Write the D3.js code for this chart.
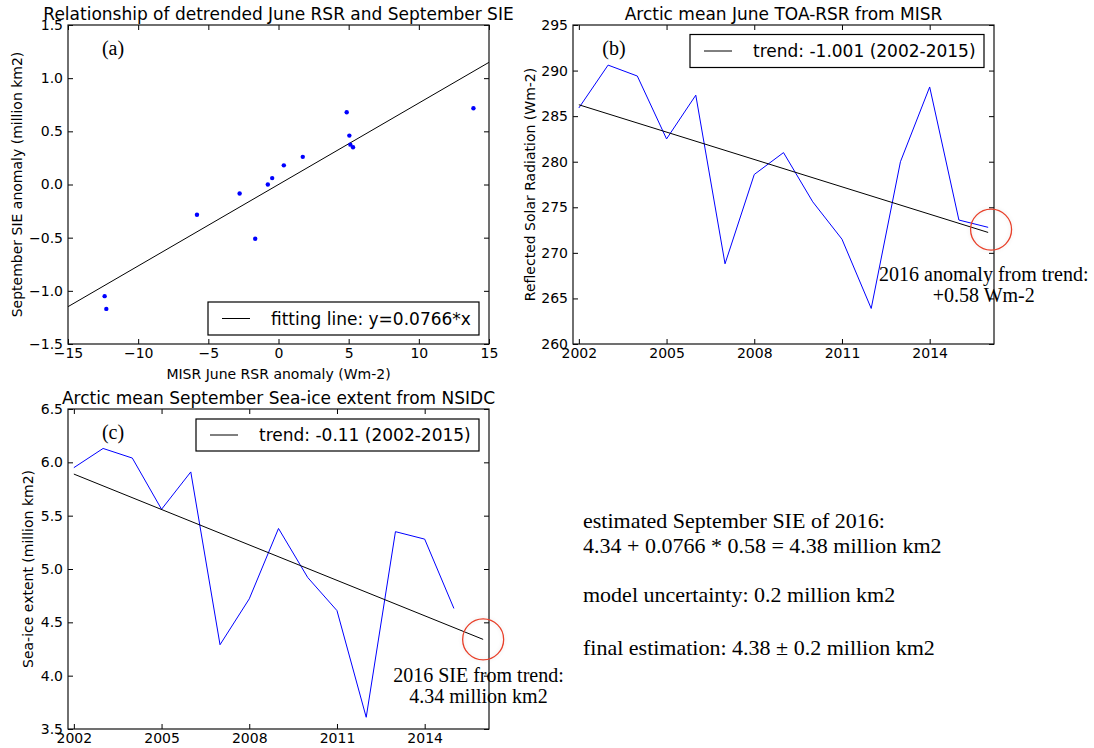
<!DOCTYPE html>
<html>
<head>
<meta charset="utf-8">
<script src="https://cdn.jsdelivr.net/npm/d3@7"></script>
<style>
    body { margin: 0; background: #fff; }
    text { fill: #000; }
</style>
</head>
<body>
<script>

// ---- data ----

// (a) detrended anomalies, one point per year 2002-2015
let rsrAnomaly = [-12.39, -12.27, -5.81, -2.77, -1.66, -0.76, -0.45, 0.38, 1.73, 4.86, 5.05, 5.12, 5.31, 13.89];
let sieAnomaly = [-1.05, -1.17, -0.285, -0.085, -0.51, 0.0, 0.06, 0.18, 0.26, 0.68, 0.46, 0.375, 0.35, 0.717];
let fitX = [-15, 15];
let fitY = [-1.149, 1.149];

// (b) June TOA reflected solar radiation
let years = [2002, 2003, 2004, 2005, 2006, 2007, 2008, 2009, 2010, 2011, 2012, 2013, 2014, 2015, 2016];
let rsrJune = [285.9, 290.6, 289.4, 282.5, 287.3, 268.8, 278.6, 281.0, 275.6, 271.5, 263.9, 280.0, 288.2, 273.6, 272.8];

// (c) September sea-ice extent (no 2016 value)
let sieSept = [5.95, 6.13, 6.04, 5.56, 5.91, 4.29, 4.72, 5.38, 4.92, 4.61, 3.61, 5.35, 5.28, 4.63];

// trend lines, end points 2002 and 2016
let trendYears = [2002, 2016];
let rsrTrend = [286.25, 272.24];
let sieTrend = [5.89, 4.34];

// tick values
let ticksAx = [-15, -10, -5, 0, 5, 10, 15];
let ticksAy = [-1.5, -1.0, -0.5, 0.0, 0.5, 1.0, 1.5];
let ticksYear = [2002, 2005, 2008, 2011, 2014];
let ticksBy = [260, 265, 270, 275, 280, 285, 290, 295];
let ticksCy = [3.5, 4.0, 4.5, 5.0, 5.5, 6.0, 6.5];

let noteLines = [
    "estimated September SIE of 2016:",
    "4.34 + 0.0766 * 0.58 = 4.38 million km2",
    "model uncertainty: 0.2 million km2",
    "final estimation: 4.38 \u00b1 0.2 million km2"
];

// ---- drawing ----

let sans = "DejaVu Sans";
let serif = "Liberation Serif, Times New Roman, serif";

let svg = d3.select("body").append("svg")
    .attr("width", 1094)
    .attr("height", 748);

let defs = svg.append("defs");
let glow = defs.append("filter").attr("id", "glow")
    .attr("x", "-30%").attr("y", "-30%").attr("width", "160%").attr("height", "160%");
glow.append("feGaussianBlur").attr("in", "SourceAlpha").attr("stdDeviation", 2).attr("result", "b");
glow.append("feComponentTransfer").attr("in", "b").attr("result", "c")
    .append("feFuncA").attr("type", "linear").attr("slope", 0.12);
let merge = glow.append("feMerge");
merge.append("feMergeNode").attr("in", "c");
merge.append("feMergeNode").attr("in", "SourceGraphic");

function makePanel(cfg) {
    let g = svg.append("g")
        .attr("transform", "translate(" + cfg.left + "," + cfg.top + ")");

    let x = d3.scaleLinear().domain(cfg.xDomain).range([0, cfg.width]);
    let y = d3.scaleLinear().domain(cfg.yDomain).range([cfg.height, 0]);

    let marks = g.append("g");

    // axes with inward ticks on all four sides
    let axes = g.append("g");
    axes.append("g")
        .attr("transform", "translate(0," + cfg.height + ")")
        .call(d3.axisBottom(x).tickValues(cfg.xTicks).tickFormat(cfg.xFormat)
            .tickSizeInner(-5).tickSizeOuter(0).tickPadding(4));
    axes.append("g")
        .call(d3.axisTop(x).tickValues(cfg.xTicks).tickFormat("")
            .tickSizeInner(-5).tickSizeOuter(0));
    axes.append("g")
        .call(d3.axisLeft(y).tickValues(cfg.yTicks).tickFormat(cfg.yFormat)
            .tickSizeInner(-5).tickSizeOuter(0).tickPadding(5));
    axes.append("g")
        .attr("transform", "translate(" + cfg.width + ",0)")
        .call(d3.axisRight(y).tickValues(cfg.yTicks).tickFormat("")
            .tickSizeInner(-5).tickSizeOuter(0));
    axes.selectAll(".domain").remove();
    axes.selectAll("text")
        .attr("font-family", sans)
        .attr("font-size", 14)
        .attr("fill", "#000");
    axes.selectAll(".tick line").attr("stroke", "#000");

    g.append("rect")
        .attr("x", 0).attr("y", 0)
        .attr("width", cfg.width).attr("height", cfg.height)
        .attr("fill", "none")
        .attr("stroke", "#111")
        .attr("stroke-width", 1.2);

    // title
    g.append("text")
        .attr("x", cfg.width / 2)
        .attr("y", -5.5)
        .attr("text-anchor", "middle")
        .attr("font-family", sans)
        .attr("font-size", 17)
        .text(cfg.title);

    // y label
    g.append("text")
        .attr("transform", "translate(" + cfg.yLabelX + "," + (cfg.height / 2) + ") rotate(-90)")
        .attr("text-anchor", "middle")
        .attr("font-family", sans)
        .attr("font-size", 14)
        .text(cfg.yLabel);

    // panel letter
    g.append("text")
        .attr("x", cfg.letterX)
        .attr("y", 30)
        .attr("text-anchor", "middle")
        .attr("font-family", serif)
        .attr("font-size", 20)
        .text(cfg.letter);

    return {g: g, marks: marks, x: x, y: y, cfg: cfg};
}

function legend(p, label) {
    let c = p.cfg.legend;
    let lg = p.g.append("g");
    lg.append("rect")
        .attr("x", c.x).attr("y", c.y)
        .attr("width", c.w).attr("height", c.h)
        .attr("fill", "#fff")
        .attr("stroke", "#000")
        .attr("stroke-width", 1.2);
    lg.append("line")
        .attr("x1", c.x + 14).attr("x2", c.x + 42)
        .attr("y1", c.y + c.h / 2).attr("y2", c.y + c.h / 2)
        .attr("stroke", "#000");
    lg.append("text")
        .attr("x", c.x + 63)
        .attr("y", c.y + c.h / 2 + 6)
        .attr("font-family", sans)
        .attr("font-size", 17)
        .text(label);
}

function annotate(p, cx, cy, lines) {
    p.g.append("circle")
        .attr("cx", p.x(cx[0]))
        .attr("cy", p.y(cx[1]))
        .attr("r", 20.5)
        .attr("fill", "none")
        .attr("stroke", "#e8402a")
        .attr("stroke-width", 1.3)
        .attr("filter", "url(#glow)");
    p.g.append("g").selectAll("text")
        .data(lines)
        .enter().append("text")
        .attr("x", p.x(cy[0]))
        .attr("y", (d, i) => p.y(cy[1]) + i * 21.5)
        .attr("text-anchor", "middle")
        .attr("font-family", serif)
        .attr("font-size", 20)
        .text(d => d);
}

let line = (xs, ys, x, y) => d3.line()
    .x((d, i) => x(xs[i]))
    .y(d => y(d))(ys);

// (a) scatter
let pa = makePanel({
    left: 68, top: 25, width: 421, height: 319,
    xDomain: [-15, 15], yDomain: [-1.5, 1.5],
    xTicks: ticksAx, yTicks: ticksAy,
    xFormat: d3.format("d"), yFormat: d3.format(".1f"),
    title: "Relationship of detrended June RSR and September SIE",
    yLabel: "September SIE anomaly (million km2)", yLabelX: -46,
    letter: "(a)", letterX: 45,
    legend: {x: 140, y: 277, w: 271, h: 33}
});

pa.marks.append("path")
    .attr("d", line(fitX, fitY, pa.x, pa.y))
    .attr("fill", "none")
    .attr("stroke", "#000")
    .attr("stroke-width", 1);

pa.marks.selectAll("circle")
    .data(rsrAnomaly)
    .enter().append("circle")
    .attr("cx", d => pa.x(d))
    .attr("cy", (d, i) => pa.y(sieAnomaly[i]))
    .attr("r", 2.2)
    .attr("fill", "#0000ff");

pa.g.append("text")
    .attr("x", pa.cfg.width / 2)
    .attr("y", 354)
    .attr("text-anchor", "middle")
    .attr("font-family", sans)
    .attr("font-size", 14)
    .text("MISR June RSR anomaly (Wm-2)");

legend(pa, "fitting line: y=0.0766*x");

// (b) June RSR
let pb = makePanel({
    left: 573, top: 25, width: 421, height: 319,
    xDomain: [2001.8, 2016.2], yDomain: [260, 295],
    xTicks: ticksYear, yTicks: ticksBy,
    xFormat: d3.format("d"), yFormat: d3.format("d"),
    title: "Arctic mean June TOA-RSR from MISR",
    yLabel: "Reflected Solar Radiation (Wm-2)", yLabelX: -38,
    letter: "(b)", letterX: 41,
    legend: {x: 117, y: 9.5, w: 294, h: 33}
});

pb.marks.append("path")
    .attr("d", line(years, rsrJune, pb.x, pb.y))
    .attr("fill", "none")
    .attr("stroke", "#0000ff")
    .attr("stroke-width", 1);

pb.marks.append("path")
    .attr("d", line(trendYears, rsrTrend, pb.x, pb.y))
    .attr("fill", "none")
    .attr("stroke", "#000")
    .attr("stroke-width", 1);

legend(pb, "trend: -1.001 (2002-2015)");
annotate(pb, [2016.1, 272.55], [2015.85, 266.95],
    ["2016 anomaly from trend:", "+0.58 Wm-2"]);

// (c) September SIE
let pc = makePanel({
    left: 68, top: 409, width: 421, height: 320,
    xDomain: [2001.8, 2016.2], yDomain: [3.5, 6.5],
    xTicks: ticksYear, yTicks: ticksCy,
    xFormat: d3.format("d"), yFormat: d3.format(".1f"),
    title: "Arctic mean September Sea-ice extent from NSIDC",
    yLabel: "Sea-ice extent (million km2)", yLabelX: -35,
    letter: "(c)", letterX: 45,
    legend: {x: 128, y: 10, w: 283, h: 32}
});

pc.marks.append("path")
    .attr("d", line(years.slice(0, sieSept.length), sieSept, pc.x, pc.y))
    .attr("fill", "none")
    .attr("stroke", "#0000ff")
    .attr("stroke-width", 1);

pc.marks.append("path")
    .attr("d", line(trendYears, sieTrend, pc.x, pc.y))
    .attr("fill", "none")
    .attr("stroke", "#000")
    .attr("stroke-width", 1);

legend(pc, "trend: -0.11 (2002-2015)");
annotate(pc, [2016, 4.34], [2015.84, 3.944],
    ["2016 SIE from trend:", "4.34 million km2"]);

// estimate notes on the right
let noteY = [528, 553, 602, 655];
svg.append("g").selectAll("text")
    .data(noteLines)
    .enter().append("text")
    .attr("x", 583)
    .attr("y", (d, i) => noteY[i])
    .attr("font-family", serif)
    .attr("font-size", 22)
    .text(d => d);

</script>
</body>
</html>
